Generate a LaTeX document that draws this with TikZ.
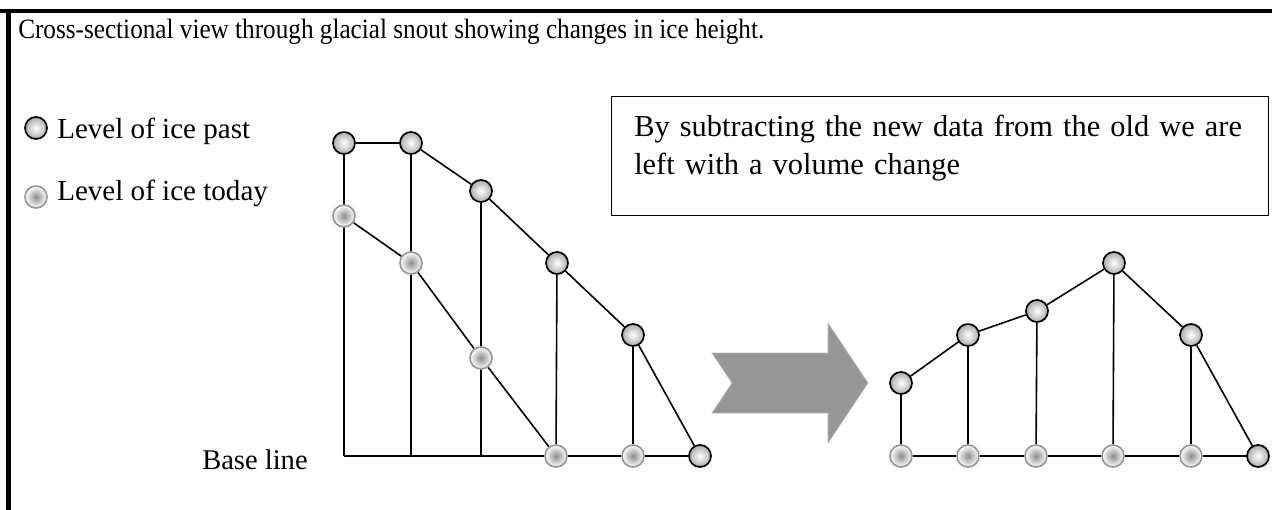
\documentclass[tikz,border=0pt]{standalone}
\usepackage{fontspec}
\setmainfont{Liberation Serif}
\usetikzlibrary{backgrounds}
\begin{document}
\begin{tikzpicture}[
    x=0.75pt, y=-0.75pt,
    past/.style={circle, draw=black, line width=1.3pt, inner sep=0pt, minimum size=16.5pt, inner color=white, outer color=gray!65},
    today/.style={circle, draw=gray!80, line width=1.3pt, inner sep=0pt, minimum size=16.5pt, inner color=gray!90, outer color=white},
    label/.style={anchor=base west, inner sep=0pt, font=\fontsize{21.8}{26}\selectfont},
    link/.style={line width=1.2pt},
]
    \useasboundingbox (0,0) rectangle (1272,510);
    % Frame
    \draw[line width=3.4pt] (0,11) -- (1272,11);
    \draw[line width=3.4pt] (8.5,9.3) -- (8.5,510);

    % Title and legend
    \node[label, font=\fontsize{21}{25}\selectfont] (title) at (18,39) {\scalebox{0.9}[1]{Cross-sectional view through glacial snout showing changes in ice height.}};
    \node[past] (lp) at (36,128) {};
    \node[label] (lptext) at (57,138) {Level of ice past};
    \node[today] (lt) at (36,197) {};
    \node[label] (lttext) at (57,200) {Level of ice today};
    \node[label, font=\fontsize{21.4}{26}\selectfont] (base) at (202,469) {Base line};

    % Note box
    \node[draw, line width=0.9pt, minimum width=492.75pt, minimum height=89.25pt, anchor=north west] (note) at (611,96) {};
    \node[label, align=left, text width=480pt, font=\fontsize{22.8}{28.5}\selectfont] (notetext) at (634,137) {By subtracting the new data from the old we are\\left with a volume change};

    % Old and new ice surface
    \node[past] (p1) at (344,143) {};
    \node[past] (p2) at (411,143) {};
    \node[past] (p3) at (481,191) {};
    \node[past] (p4) at (557,263) {};
    \node[past] (p5) at (633,335) {};
    \node[past] (p6) at (700,456) {};
    \node[today] (t1) at (344,216) {};
    \node[today] (t2) at (411,263) {};
    \node[today] (t3) at (481,358) {};
    \node[today] (t4) at (556,456) {};
    \node[today] (t5) at (633,456) {};
    \coordinate (b1) at (344,456);
    \coordinate (b2) at (411,456);
    \coordinate (b3) at (481,456);

    % Arrow
    \fill[gray!82, draw=gray!55, line width=0.6pt] (712,353) -- (828,353) -- (828,323) -- (868,383) -- (828,443) -- (828,413) -- (712,413) -- (732,383) -- cycle;

    % Volume change
    \node[past] (q1) at (901,383) {};
    \node[past] (q2) at (968,335) {};
    \node[past] (q3) at (1037,311) {};
    \node[past] (q4) at (1114,263) {};
    \node[past] (q5) at (1191,335) {};
    \node[past] (q6) at (1258,456) {};
    \node[today] (s1) at (901,456) {};
    \node[today] (s2) at (968,456) {};
    \node[today] (s3) at (1036,456) {};
    \node[today] (s4) at (1113,456) {};
    \node[today] (s5) at (1191,456) {};

    \begin{scope}[on background layer]
        \draw[link] (p1) -- (p2) -- (p3) -- (p4) -- (p5) -- (p6);
        \draw[link] (t1) -- (t2) -- (t3) -- (t4);
        \draw[link] (p1) -- (b1);
        \draw[link] (p2) -- (b2);
        \draw[link] (p3) -- (b3);
        \draw[link] (p4) -- (t4);
        \draw[link] (p5) -- (t5);
        \draw[link] (b1) -- (t4) -- (t5) -- (p6);
        \draw[link] (q1) -- (q2) -- (q3) -- (q4) -- (q5) -- (q6);
        \foreach \i in {1,...,5}
            \draw[link] (q\i) -- (s\i);
        \draw[link] (s1) -- (s2) -- (s3) -- (s4) -- (s5) -- (q6);
    \end{scope}
\end{tikzpicture}
\end{document}
